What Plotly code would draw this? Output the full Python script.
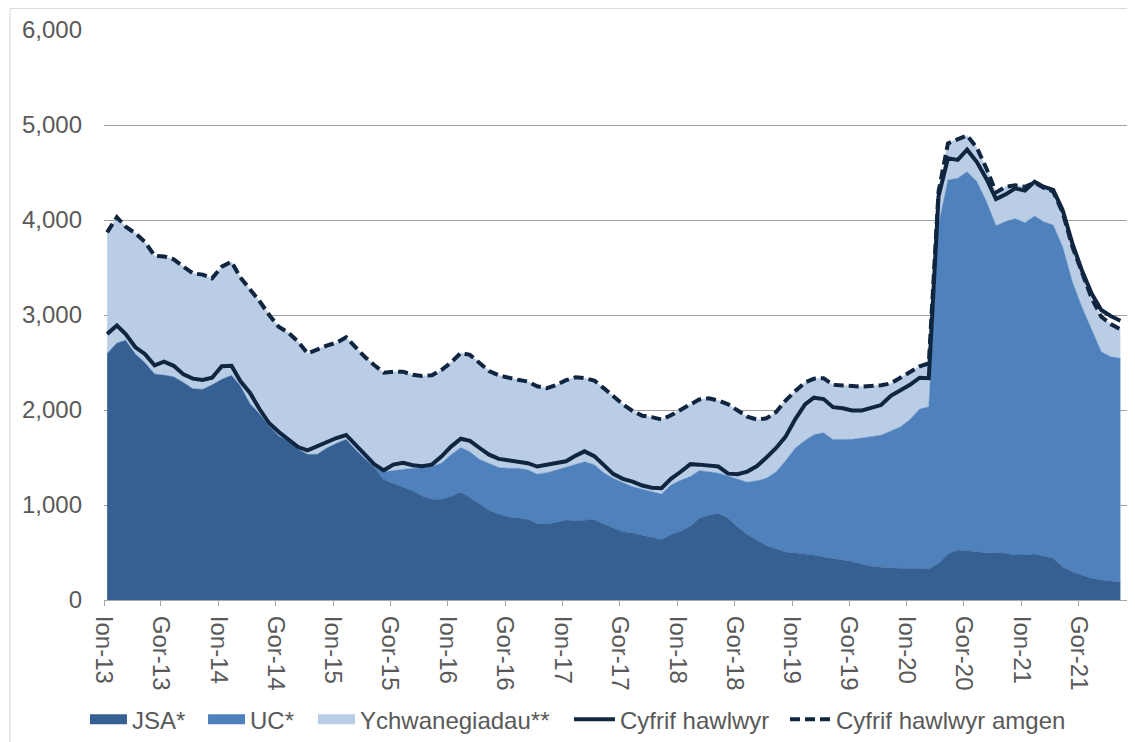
import pandas as pd
import plotly.graph_objects as go

# ---- data (monthly, Jan 2013 - Nov 2021) ----
start_month = "2013-01-11"
n_months = 107

jsa = [2596, 2705, 2735, 2590, 2500, 2380, 2368, 2350, 2290, 2225,
       2218, 2265, 2325, 2365, 2255, 2065, 1960, 1830, 1730, 1675,
       1590, 1533, 1535, 1600, 1650, 1691, 1590, 1490, 1395, 1265,
       1225, 1190, 1150, 1095, 1060, 1060, 1092, 1135, 1080, 1010,
       945, 905, 875, 862, 849, 805, 800, 818, 841, 837,
       840, 845, 800, 760, 719, 705, 680, 655, 638, 690,
       725, 780, 860, 895, 910, 860, 770, 690, 630, 575,
       540, 505, 495, 487, 475, 452, 436, 425, 405, 380,
       355, 345, 335, 333, 333, 333, 325, 386, 484, 526,
       519, 509, 498, 498, 491, 474, 474, 484, 463, 439,
       351, 298, 263, 228, 211, 200, 189]

uc = [0, 0, 0, 0, 0, 0, 0, 0, 0, 0,
      0, 0, 0, 0, 0, 0, 0, 0, 0, 0,
      0, 0, 0, 0, 0, 0, 0, 0, 10, 85,
      137, 188, 236, 295, 345, 380, 438, 470, 480, 470,
      491, 490, 511, 524, 521, 520, 540, 552, 562, 593,
      615, 580, 540, 520, 516, 488, 485, 485, 477, 520,
      535, 520, 501, 455, 425, 445, 500, 550, 625, 706,
      810, 960, 1105, 1193, 1265, 1308, 1254, 1263, 1286, 1325,
      1365, 1390, 1445, 1487, 1567, 1677, 1710, 3564, 3937, 3913,
      3990, 3895, 3692, 3442, 3494, 3540, 3498, 3558, 3519, 3508,
      3368, 3053, 2825, 2614, 2403, 2361, 2355]

ychwanegiadau = [1274, 1325, 1195, 1270, 1270, 1244, 1249, 1236, 1219, 1214,
                 1207, 1121, 1184, 1196, 1141, 1205, 1187, 1170, 1147, 1139,
                 1129, 1063, 1103, 1077, 1059, 1074, 1077, 1071, 1069, 1043,
                 1041, 1025, 984, 968, 960, 980, 970, 995, 1020, 1020,
                 974, 970, 954, 932, 930, 925, 890, 893, 911, 915,
                 880, 885, 890, 860, 825, 797, 775, 785, 785, 735,
                 740, 760, 749, 773, 765, 755, 720, 690, 645, 631,
                 630, 635, 600, 610, 590, 575, 575, 567, 561, 541,
                 530, 525, 500, 520, 500, 450, 456, 350, 386, 416,
                 381, 356, 350, 350, 365, 351, 378, 353, 358, 353,
                 361, 369, 352, 338, 368, 344, 305]

cyfrif_hawlwyr = [2800, 2890, 2800, 2660, 2590, 2470, 2510, 2465, 2375, 2330,
                  2316, 2340, 2460, 2465, 2305, 2180, 2010, 1860, 1770, 1694,
                  1610, 1575, 1620, 1665, 1705, 1737, 1640, 1520, 1430, 1365,
                  1425, 1445, 1418, 1408, 1425, 1510, 1615, 1698, 1675, 1600,
                  1530, 1485, 1470, 1460, 1440, 1405, 1420, 1440, 1460, 1520,
                  1565, 1515, 1425, 1325, 1275, 1246, 1205, 1182, 1176, 1275,
                  1350, 1430, 1425, 1414, 1405, 1330, 1325, 1352, 1410, 1500,
                  1600, 1720, 1905, 2060, 2130, 2115, 2030, 2018, 1995, 1995,
                  2022, 2052, 2150, 2210, 2265, 2340, 2335, 4250, 4650, 4632,
                  4740, 4610, 4430, 4220, 4270, 4333, 4309, 4404, 4351, 4316,
                  4105, 3754, 3474, 3228, 3053, 2989, 2940]

cyfrif_hawlwyr_amgen = [3870, 4030, 3930, 3860, 3770, 3624, 3617, 3586, 3509, 3439,
                        3425, 3386, 3509, 3561, 3396, 3270, 3147, 3000, 2877, 2814,
                        2719, 2596, 2638, 2677, 2709, 2765, 2667, 2561, 2474, 2393,
                        2403, 2403, 2370, 2358, 2365, 2420, 2500, 2600, 2580, 2500,
                        2410, 2365, 2340, 2318, 2300, 2250, 2230, 2263, 2314, 2345,
                        2335, 2310, 2230, 2140, 2060, 1990, 1940, 1925, 1900, 1945,
                        2000, 2060, 2110, 2123, 2100, 2060, 1990, 1930, 1900, 1912,
                        1980, 2100, 2200, 2290, 2330, 2335, 2265, 2255, 2252, 2246,
                        2250, 2260, 2280, 2340, 2400, 2460, 2491, 4300, 4807, 4855,
                        4890, 4760, 4540, 4290, 4350, 4365, 4350, 4395, 4340, 4300,
                        4080, 3720, 3440, 3180, 2982, 2905, 2849]

tick_dates = ["2013-01-01", "2013-07-01", "2014-01-01", "2014-07-01", "2015-01-01",
              "2015-07-01", "2016-01-01", "2016-07-01", "2017-01-01", "2017-07-01",
              "2018-01-01", "2018-07-01", "2019-01-01", "2019-07-01", "2020-01-01",
              "2020-07-01", "2021-01-01", "2021-07-01"]
tick_labels = ["Ion-13", "Gor-13", "Ion-14", "Gor-14", "Ion-15", "Gor-15",
               "Ion-16", "Gor-16", "Ion-17", "Gor-17", "Ion-18", "Gor-18",
               "Ion-19", "Gor-19", "Ion-20", "Gor-20", "Ion-21", "Gor-21"]

months = pd.date_range(start_month, periods=n_months, freq=pd.DateOffset(months=1))

FONT = "Liberation Sans, Arial, sans-serif"
TXT = "#595959"
C_JSA = "#376092"
C_UC = "#4F81BD"
C_ADD = "#B9CDE5"
C_LINE = "#10253F"

fig = go.Figure()
area_specs = [("JSA*", jsa, C_JSA, "legend"),
              ("UC*", uc, C_UC, "legend2"),
              ("Ychwanegiadau**", ychwanegiadau, C_ADD, "legend3")]
for name, vals, col, lg in area_specs:
    fig.add_trace(go.Scatter(x=months, y=vals, name=name, mode="lines",
                             stackgroup="one", line=dict(width=0.5, color=col),
                             fillcolor=col, legendgroup=name, showlegend=False))
# legend keys for the stacked areas (solid colour blocks)
for name, vals, col, lg in area_specs:
    fig.add_trace(go.Scatter(x=[None], y=[None], name=name, mode="lines",
                             line=dict(width=12, color=col), legendgroup=name,
                             legend=lg, showlegend=True, hoverinfo="skip"))

fig.add_trace(go.Scatter(x=months, y=cyfrif_hawlwyr, name="Cyfrif hawlwyr",
                         mode="lines", line=dict(color=C_LINE, width=4), legend="legend4"))
fig.add_trace(go.Scatter(x=months, y=cyfrif_hawlwyr_amgen, name="Cyfrif hawlwyr amgen",
                         mode="lines", line=dict(color=C_LINE, width=4, dash="10px,5px"),
                         legend="legend5"))


def leg(x, w):
    return dict(orientation="h", x=x, xanchor="left", y=-0.21, yanchor="middle",
                font=dict(size=24, color=TXT, family=FONT), itemwidth=w,
                bgcolor="rgba(0,0,0,0)", borderwidth=0)


# page body has an 8px default margin, so the figure is 8px smaller each way
fig.update_layout(
    width=1127, height=734, autosize=False,
    margin=dict(l=96, r=8, t=22, b=142, autoexpand=False),
    paper_bgcolor="white", plot_bgcolor="white",
    font=dict(family=FONT, size=24, color=TXT),
    showlegend=True,
    legend=leg(-0.0186, 37),
    legend2=leg(0.0968, 37),
    legend3=leg(0.2043, 37),
    legend4=leg(0.4545, 41),
    legend5=leg(0.6657, 41),
    xaxis=dict(type="date", range=["2013-01-01", "2021-12-02"], automargin=False,
               tickmode="array", tickvals=tick_dates, ticktext=tick_labels,
               tickangle=90, ticks="outside", ticklen=5, tickcolor="#A6A6A6",
               ticklabelstandoff=5,
               showline=True, linecolor="#A6A6A6", linewidth=1,
               showgrid=False, zeroline=False,
               tickfont=dict(size=24, color=TXT, family=FONT)),
    yaxis=dict(range=[0, 6000], dtick=1000, tickformat=",", automargin=False,
               showgrid=True, gridcolor="#A0A0A0", gridwidth=1,
               zeroline=False, showline=False, ticks="",
               ticklabelstandoff=21,
               tickfont=dict(size=24, color=TXT, family=FONT)),
    shapes=[dict(type="rect", xref="paper", yref="paper",
                 x0=-0.0919, x1=1.1, y0=-0.4, y1=1.0378,
                 line=dict(color="#D9D9D9", width=1), fillcolor="rgba(0,0,0,0)",
                 layer="below")],
)

fig.write_html("out.html")
